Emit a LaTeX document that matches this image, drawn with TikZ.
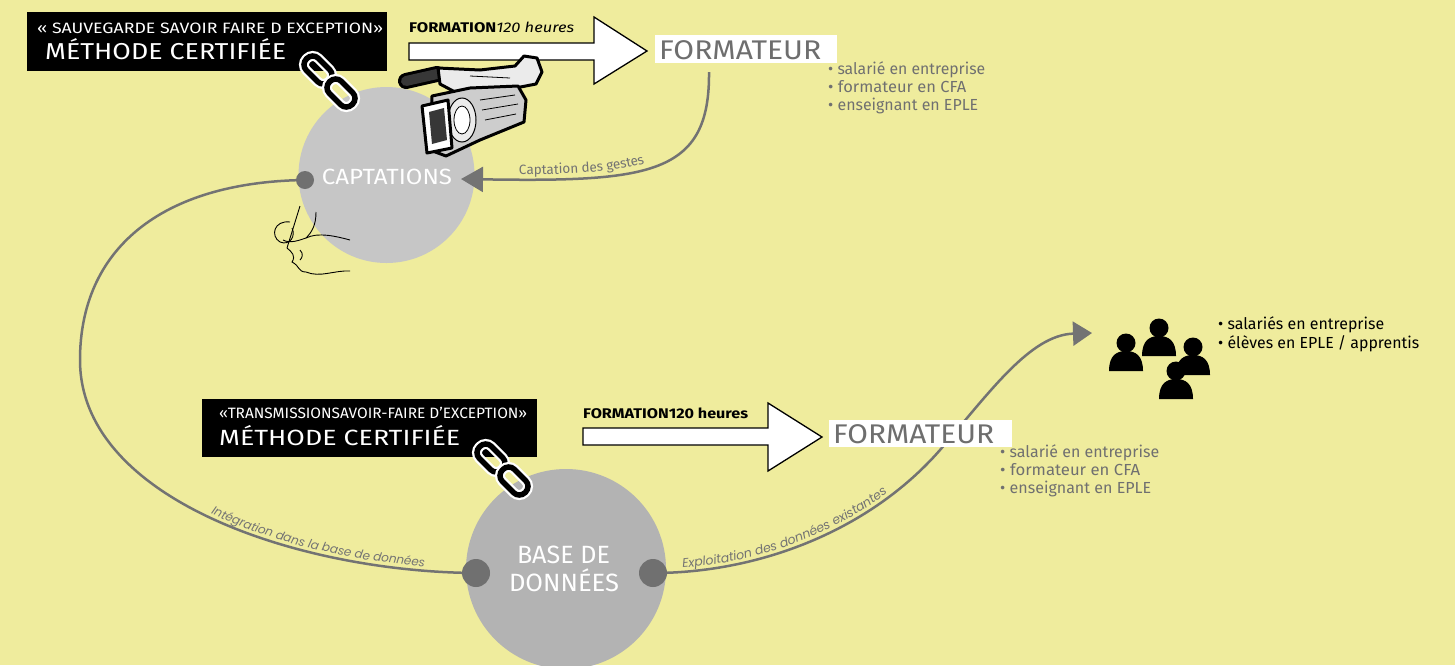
\documentclass[tikz,border=0pt]{standalone}
\usepackage{fontspec}
\usepackage{graphicx}
\setmainfont{Fira Sans}
\newfontfamily\lblfont{Poppins}
\usetikzlibrary{arrows.meta,decorations.text}
\definecolor{bgy}{RGB}{239,236,157}
\definecolor{circA}{RGB}{198,198,198}
\definecolor{circB}{RGB}{179,179,179}
\definecolor{dgray}{RGB}{112,112,112}
\definecolor{lgray}{RGB}{115,115,115}
\definecolor{fgray}{RGB}{110,110,110}
\definecolor{bgray}{RGB}{112,112,112}
\definecolor{camdark}{RGB}{55,55,55}
\definecolor{cammid}{RGB}{205,205,205}
\definecolor{camlight}{RGB}{235,235,235}
\newcommand\hfit[2]{\resizebox{#1}{\height}{#2}}
\newcommand\chainlinkat[3]{%
  \begin{scope}[shift={(#1,#2)},rotate=#3]
    \draw[linkw] (-8.5,-16) rectangle (8.5,16);
    \draw[linkb] (-8.5,-16) rectangle (8.5,16);
  \end{scope}}
\pgfdeclarelayer{back}
\pgfdeclarelayer{lines}
\pgfsetlayers{back,lines,main}
\begin{document}
\begin{tikzpicture}[x=1pt,y=1pt,
  conn/.style={draw=lgray, line width=2.5pt},
  dotn/.style={circle, fill=dgray, inner sep=0},
  bigarrow/.style={draw=black, line width=1.3pt, fill=white, line join=miter},
  bbox/.style={fill=black, inner sep=0, anchor=north west},
  wtext/.style={text=white, anchor=base west, inner sep=0},
  fbox/.style={fill=white, inner sep=0, anchor=north west},
  ftext/.style={text=fgray, anchor=base west, inner sep=0, font=\fontsize{27}{30}\selectfont},
  bul/.style={text=bgray, anchor=base west, inner sep=0, font=\fontsize{16}{18}\selectfont},
  pbul/.style={text=black, anchor=base west, inner sep=0, font=\fontsize{16}{18}\selectfont},
  linkb/.style={line width=5.5pt, draw=black, rounded corners=8pt},
  linkw/.style={line width=10pt, draw=white, rounded corners=8pt},
  camout/.style={draw=black, line width=3pt, line join=round},
  person/.pic={
    \fill (0,0) circle (9.5);
    \fill (-17,-28) .. controls (-17,-12) and (-9,-8) .. (0,-8) .. controls (9,-8) and (17,-12) .. (17,-28) -- cycle;
  }]
\useasboundingbox (0,0) rectangle (1455,-665);

\begin{pgfonlayer}{back}
  \fill[bgy] (0,0) rectangle (1455,-665);
  \node[circle, fill=circA, minimum size=176pt, inner sep=0] (capt) at (386.5,-175) {};
  \node[circle, fill=circB, minimum size=200pt, inner sep=0] (base) at (566,-569) {};
\end{pgfonlayer}

% circle texts
\node[text=white, anchor=base, inner sep=0, font=\fontsize{22}{26}\selectfont] (captt) at (387,-184) {\hfit{130pt}{CAPTATIONS}};
\node[text=white, anchor=base, inner sep=0, font=\fontsize{25}{28}\selectfont] (baset1) at (563.5,-563) {\hfit{93pt}{BASE DE}};
\node[text=white, anchor=base, inner sep=0, font=\fontsize{25}{28}\selectfont] (baset2) at (564,-591) {\hfit{110pt}{DONNÉES}};

% dots and anchor coordinates
\node[dotn, minimum size=18pt] (d1) at (305,-180) {};
\node[dotn, minimum size=28pt] (dL) at (476,-573) {};
\node[dotn, minimum size=28pt] (dR) at (653,-573) {};
\coordinate (fcap) at (709,-72);
\coordinate (captin) at (461,-179);
\coordinate (pplin) at (1092,-333);

% connectors
\begin{pgfonlayer}{lines}
  \draw[conn] (d1.center) .. controls (160,-182) and (80,-250) .. (80,-360)
              .. controls (80,-500) and (300,-572) .. (dL.center);
  \draw[conn, -{Triangle[length=22pt,width=25pt]}] (fcap) .. controls (710,-175) and (650,-182) .. (captin);
  \draw[conn, -{Triangle[length=19pt,width=24pt]}] (dR.center) .. controls (760,-573) and (870,-530) .. (940,-450)
              .. controls (990,-392) and (1030,-335) .. (pplin);
\end{pgfonlayer}

% connector labels
\path[decorate, decoration={text along path,
   text={|\lblfont\itshape\fontsize{12}{14}\selectfont|Intégration dans la base de données},
   text color=lgray, text align={right, right indent=52pt}, raise=4pt}]
   (80,-360) .. controls (80,-500) and (300,-572) .. (476,-573);
\path[decorate, decoration={text along path,
   text={|\lblfont\itshape\fontsize{12.5}{14}\selectfont|Exploitation des données existantes},
   text color=lgray, text align={left, left indent=30pt}, raise=4pt}]
   (653,-573) .. controls (760,-573) and (870,-530) .. (940,-450);
\path[decorate, decoration={text along path,
   text={|\fontsize{13.5}{15}\selectfont|Captation des gestes},
   text color=lgray, text align={left, left indent=58pt}, raise=5pt}]
   (captin) .. controls (650,-182) and (710,-175) .. (fcap);

% black title boxes
\node[bbox, minimum width=360pt, minimum height=59pt] (mc1) at (27,-12) {};
\node[wtext, font=\fontsize{15}{18}\selectfont] (t1a) at (37,-33) {\hfit{346pt}{« SAUVEGARDE SAVOIR FAIRE D EXCEPTION»}};
\node[wtext, font=\fontsize{23}{26}\selectfont] (t1b) at (45,-59) {\hfit{241pt}{MÉTHODE CERTIFIÉE}};
\node[bbox, minimum width=335pt, minimum height=58pt] (mc2) at (202,-399) {};
\node[wtext, font=\fontsize{15}{18}\selectfont] (t2a) at (219,-418) {\hfit{308pt}{«TRANSMISSIONSAVOIR-FAIRE D’EXCEPTION»}};
\node[wtext, font=\fontsize{22}{26}\selectfont] (t2b) at (219,-445) {\hfit{241pt}{MÉTHODE CERTIFIÉE}};

% formation arrows
\draw[bigarrow] (409,-43) -- (594,-43) -- (594,-17) -- (647,-51) -- (594,-84) -- (594,-60) -- (409,-60) -- cycle;
\node[anchor=base west, inner sep=0, font=\fontsize{14}{16}\selectfont] (form1) at (409,-32) {\hfit{165pt}{\textbf{FORMATION}\textit{120 heures}}};
\draw[bigarrow] (583,-428) -- (768,-428) -- (768,-403) -- (822,-437) -- (768,-471) -- (768,-445) -- (583,-445) -- cycle;
\node[anchor=base west, inner sep=0, font=\fontsize{14}{16}\selectfont] (form2) at (583,-418) {\hfit{165pt}{\textbf{FORMATION120 heures}}};

% formateur boxes
\node[fbox, minimum width=182pt, minimum height=28pt] (fm1) at (655,-35) {};
\node[ftext] (fm1t) at (659,-59) {\hfit{162pt}{FORMATEUR}};
\node[fbox, minimum width=183pt, minimum height=27pt] (fm2) at (829,-420) {};
\node[ftext] (fm2t) at (833,-443) {\hfit{161pt}{FORMATEUR}};

% bullets
\node[bul] (b11) at (828,-74) {\hfit{157pt}{• salarié en entreprise}};
\node[bul] (b12) at (828,-92) {\hfit{138pt}{• formateur en CFA}};
\node[bul] (b13) at (828,-110) {\hfit{150pt}{• enseignant en EPLE}};
\node[bul] (b21) at (1000,-457) {\hfit{159pt}{• salarié en entreprise}};
\node[bul] (b22) at (1000,-475) {\hfit{140pt}{• formateur en CFA}};
\node[bul] (b23) at (1000,-493) {\hfit{151pt}{• enseignant en EPLE}};
\node[pbul] (p1t) at (1218,-329) {\hfit{166pt}{• salariés en entreprise}};
\node[pbul] (p2t) at (1218,-348) {\hfit{201pt}{• élèves en EPLE / apprentis}};

% people
\pic[black] (pp1) at (1126,-343) {person};
\pic[black] (pp2) at (1159,-328) {person};
\pic[black] (pp3) at (1193,-347) {person};
\pic[black] (pp4) at (1176,-371) {person};

% chain links
\chainlinkat{318}{-70}{45}
\chainlinkat{341}{-93}{45}
\chainlinkat{491}{-458}{45}
\chainlinkat{514}{-481}{45}

% camera
\draw[line width=16pt, line cap=round, black] (406,-81) -- (437,-74);
\draw[line width=10pt, line cap=round, camdark] (406,-81) -- (437,-74);
\draw[camout, fill=camlight] (438,-68) -- (480,-70) -- (515,-66) -- (524,-56) -- (537,-58) -- (542,-72) -- (536,-84) -- (505,-90) -- (455,-92) -- (440,-84) -- cycle;
\draw[camout, fill=cammid] (432,-96) -- (470,-88) -- (518,-86) -- (526,-100) -- (524,-122) -- (480,-140) -- (446,-156) -- (430,-150) -- cycle;
\draw[black, line width=1pt, fill=camlight] (462,-120) ellipse (14 and 22);
\draw[black, line width=0.8pt, fill=white] (462,-120) ellipse (8 and 14);
\draw[camout, fill=white] (422,-106) -- (448,-100) -- (452,-148) -- (427,-153) -- cycle;
\fill[camdark] (429,-112) -- (444,-108) -- (447,-140) -- (432,-144) -- cycle;
\draw[black, line width=0.8pt] (480,-100) -- (515,-95) (482,-110) -- (518,-104) (485,-120) -- (516,-114) (470,-76) -- (510,-78);

% hand sketch
\begin{scope}[black, line width=0.9pt]
  \draw (300,-206) -- (287,-248);
  \draw (316,-212) .. controls (316,-225) and (312,-232) .. (306,-238);
  \draw (290,-222) .. controls (274,-220) and (270,-236) .. (280,-242) .. controls (290,-246) and (296,-236) .. (292,-228);
  \draw (283,-240) .. controls (290,-244) and (300,-240) .. (306,-238) .. controls (318,-232) and (335,-236) .. (350,-240);
  \draw (287,-248) .. controls (292,-252) and (296,-256) .. (292,-262) .. controls (300,-266) and (298,-272) .. (306,-272) .. controls (320,-278) and (335,-270) .. (350,-271);
  \draw (300,-250) .. controls (304,-254) and (302,-258) .. (300,-260);
\end{scope}
\end{tikzpicture}
\end{document}
